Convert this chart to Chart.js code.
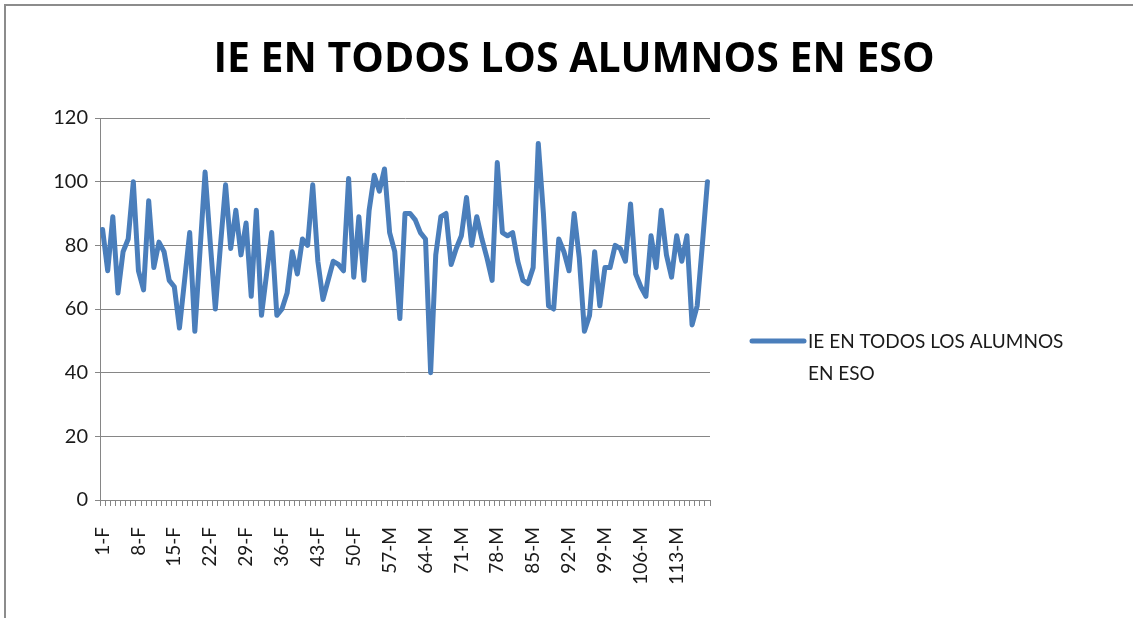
<!DOCTYPE html>
<html>
<head>
<meta charset="utf-8">
<script src="https://cdn.jsdelivr.net/npm/chart.js@4/dist/chart.umd.min.js"></script>
<style>
  body { margin: 0; background: #fff; }
  #wrap { width: 1133px; height: 618px; }
</style>
</head>
<body>
<div id="wrap"><canvas id="c" width="1133" height="618"></canvas></div>
<script>
const title = "IE EN TODOS LOS ALUMNOS EN ESO"
const seriesLabel = "IE EN TODOS LOS ALUMNOS EN ESO"
const legendLines = ["IE EN TODOS LOS ALUMNOS", "EN ESO"]

// alumnos 1..119, F hasta el 55 y M desde el 56
const alumnos = []
for (let n = 1; n <= 119; n++) alumnos.push(n + (n <= 55 ? "-F" : "-M"))

const ie = [
  85, 72, 89, 65, 78, 82, 100, 72, 66, 94, 73, 81, 78, 69, 67, 54,
  69, 84, 53, 78, 103, 81, 60, 80, 99, 79, 91, 77, 87, 64, 91, 58,
  71, 84, 58, 60, 65, 78, 71, 82, 80, 99, 75, 63, 69, 75, 74, 72,
  101, 70, 89, 69, 91, 102, 97, 104, 84, 78, 57, 90, 90, 88, 84, 82,
  40, 77, 89, 90, 74, 79, 83, 95, 80, 89, 82, 76, 69, 106, 84, 83,
  84, 75, 69, 68, 73, 112, 90, 61, 60, 82, 78, 72, 90, 76, 53, 58,
  78, 61, 73, 73, 80, 79, 75, 93, 71, 67, 64, 83, 73, 91, 77, 70,
  83, 75, 83, 55, 61, 80, 100
]

const yTicks = [0, 20, 40, 60, 80, 100, 120]

const lineColor = "#4a7ebb"
const gridColor = "#868686"
const txtFont = "Lato, 'Open Sans', sans-serif"

// marco gris, titulo centrado en todo el ancho y leyenda a la derecha
const frameAndLegend = {
  id: "frameAndLegend",
  beforeDraw(chart) {
    const ctx = chart.ctx
    ctx.save()
    ctx.fillStyle = "#fff"
    ctx.fillRect(0, 0, chart.width, chart.height)
    ctx.restore()
  },
  afterDraw(chart) {
    const ctx = chart.ctx
    ctx.save()
    ctx.strokeStyle = "#8c8c8c"
    ctx.lineWidth = 2
    ctx.strokeRect(5, 5, 1300, 800)

    ctx.fillStyle = "#000"
    ctx.font = "bold 41px 'Open Sans', sans-serif"
    ctx.textAlign = "center"
    ctx.textBaseline = "alphabetic"
    ctx.fillText(title, 574, 72)

    ctx.strokeStyle = lineColor
    ctx.lineWidth = 5
    ctx.lineCap = "round"
    ctx.beginPath()
    ctx.moveTo(752, 341)
    ctx.lineTo(804, 341)
    ctx.stroke()

    ctx.fillStyle = "#1a1a1a"
    ctx.font = "19px " + txtFont
    ctx.textAlign = "left"
    legendLines.forEach((t, i) => ctx.fillText(t, 808, 348 + i * 32))
    ctx.restore()
  }
}

new Chart(document.getElementById("c"), {
  type: "line",
  data: {
    labels: alumnos,
    datasets: [{
      label: seriesLabel,
      data: ie,
      borderColor: lineColor,
      borderWidth: 5,
      borderJoinStyle: "round",
      borderCapStyle: "round",
      pointRadius: 0,
      tension: 0,
      fill: false
    }]
  },
  options: {
    responsive: false,
    animation: false,
    layout: { padding: { left: 0, right: 423, top: 118, bottom: 0 } },
    plugins: {
      legend: { display: false },
      tooltip: { enabled: false },
      title: { display: false }
    },
    scales: {
      x: {
        offset: true,
        grid: {
          offset: true,
          drawOnChartArea: false,
          color: gridColor,
          tickLength: 6
        },
        border: { color: gridColor, width: 1 },
        ticks: {
          autoSkip: false,
          minRotation: 90,
          maxRotation: 90,
          padding: 21,
          color: "#1a1a1a",
          font: { family: txtFont, size: 19 },
          callback: function (val, idx) {
            return idx % 7 === 0 ? this.getLabelForValue(val) : ""
          }
        },
        afterFit(scale) { scale.height = 118 }
      },
      y: {
        min: 0,
        max: 120,
        afterBuildTicks(scale) { scale.ticks = yTicks.map(v => ({ value: v })) },
        grid: { color: gridColor, tickLength: 5 },
        border: { color: gridColor, width: 1 },
        ticks: {
          padding: 7,
          color: "#1a1a1a",
          font: { family: txtFont, size: 20 }
        },
        afterFit(scale) { scale.width = 100 }
      }
    }
  },
  plugins: [frameAndLegend]
})
</script>
</body>
</html>
